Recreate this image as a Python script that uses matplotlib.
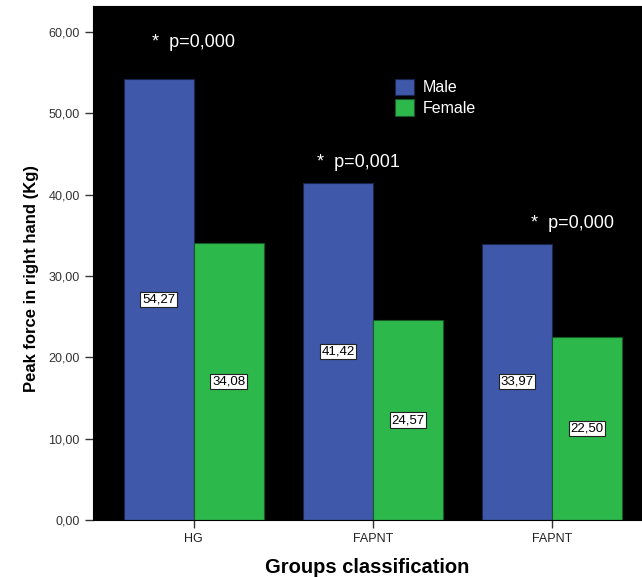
import matplotlib
matplotlib.use("Agg")
import matplotlib.pyplot as plt
import numpy as np

plt.rcParams['font.family'] = ['Liberation Sans', 'DejaVu Sans']

categories = ["HG", "FAPNT", "FAPNT"]
male = [54.27, 41.42, 33.97]
female = [34.08, 24.57, 22.50]
pvalues = ["* p=0,000", "* p=0,001", "* p=0,000"]
p_y = [58.7, 43.9, 36.4]
p_dx = [0.0, -0.08, 0.11]
yticks = [0, 10, 20, 30, 40, 50, 60]

blue = "#3F58A9"
green = "#2DB84B"

fig = plt.figure(figsize=(6.42, 5.77), dpi=100)
ax = fig.add_axes([0.145, 0.0988, 0.855, 0.8908])
ax.set_facecolor("black")

x = np.arange(len(categories))
w = 0.39
bm = ax.bar(x - w / 2, male, w, color=blue, edgecolor="#1a2650", linewidth=0.8, label="Male")
bf = ax.bar(x + w / 2, female, w, color=green, edgecolor="#145a22", linewidth=0.8, label="Female")

for bars, vals in ((bm, male), (bf, female)):
    for b, v in zip(bars, vals):
        ax.text(b.get_x() + b.get_width() / 2, v / 2, f"{v:.2f}".replace(".", ","),
                ha="center", va="center", fontsize=9.5, color="black",
                bbox=dict(boxstyle="square,pad=0.12", facecolor="white", edgecolor="#222222", linewidth=0.8))

for i, (t, yy) in enumerate(zip(pvalues, p_y)):
    ax.text(x[i] + p_dx[i], yy, t.replace("* ", "*  "), ha="center", va="center", fontsize=13, color="white")

ax.set_xlim(-0.56, 2.5)
ax.set_ylim(0, 63.2)
ax.set_yticks(yticks)
ax.set_yticklabels([f"{v:.2f}".replace(".", ",") for v in yticks], fontsize=9, color="#333333")
ax.set_xticks(x)
ax.set_xticklabels(categories, fontsize=9, color="#222222")
ax.tick_params(axis="both", direction="out", length=6, width=1, color="#333333")

ax.set_ylabel("Peak force in right hand (Kg)", fontsize=12, fontweight="bold", labelpad=10)
ax.yaxis.set_label_coords(-0.098, 0.47)
ax.set_xlabel("Groups classification", fontsize=14.5, fontweight="bold", labelpad=9)

leg = ax.legend(loc="upper left", bbox_to_anchor=(0.53, 0.88), frameon=False, fontsize=11.5,
                labelcolor="white", handlelength=1.2, handleheight=1.2, handletextpad=0.5,
                borderpad=0.2, labelspacing=0.25)

fig.savefig("out.png", dpi=100)
